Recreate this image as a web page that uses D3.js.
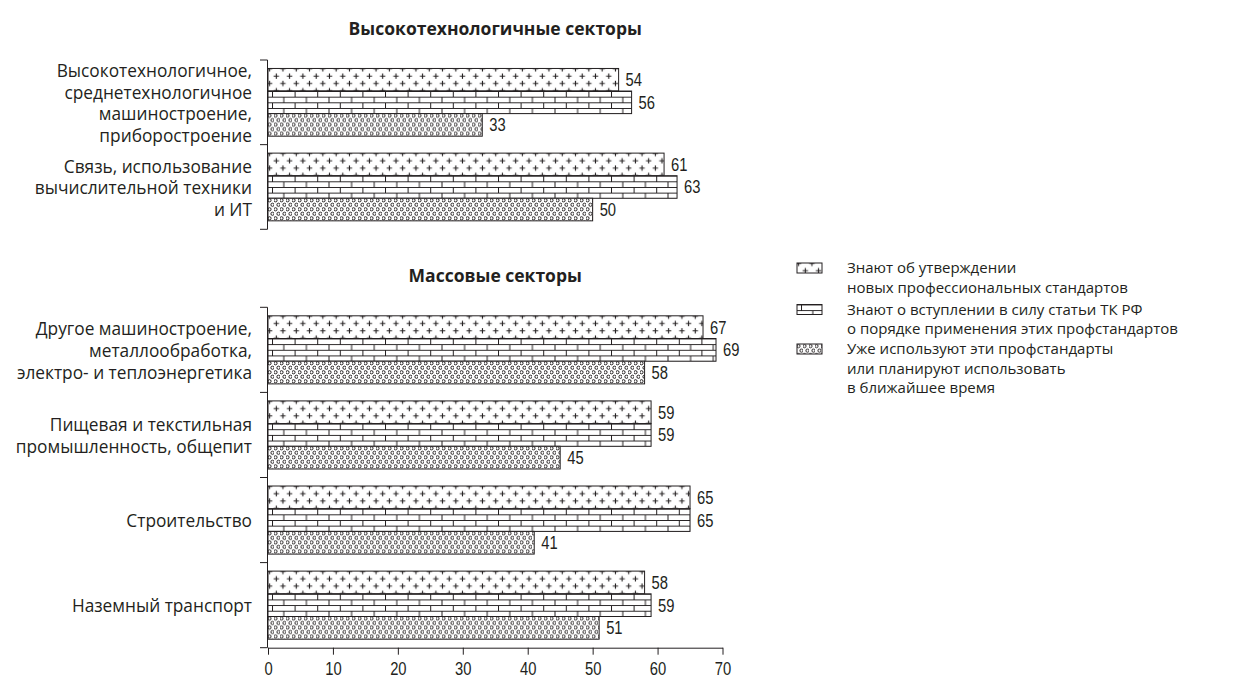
<!DOCTYPE html>
<html lang="ru">
<head>
<meta charset="utf-8">
<script src="https://cdn.jsdelivr.net/npm/d3@7/dist/d3.min.js"></script>
<style>
  html, body { margin: 0; padding: 0; background: #fff; }
  svg { display: block; }
  .cat { font-family: "Open Sans", "Noto Sans", sans-serif; font-size: 17.3px; fill: #231f20; }
  .title { font-family: "Open Sans", "Noto Sans", sans-serif; font-size: 17.5px; font-weight: 700; fill: #231f20; }
  .num { font-family: "Liberation Sans", Arial, sans-serif; font-size: 18px; fill: #231f20; }
  .leg { font-family: "Open Sans", "Noto Sans", sans-serif; font-size: 15px; fill: #231f20; }
</style>
</head>
<body>
<svg id="chart" width="1239" height="680"></svg>
<script>
// Sector names (label lines) per panel
const hiTechSectors = [
  ["Высокотехнологичное,", "среднетехнологичное", "машиностроение,", "приборостроение"],
  ["Связь, использование", "вычислительной техники", "и ИТ"]
];
const massSectors = [
  ["Другое машиностроение,", "металлообработка,", "электро- и теплоэнергетика"],
  ["Пищевая и текстильная", "промышленность, общепит"],
  ["Строительство"],
  ["Наземный транспорт"]
];
const panelTitles = ["Высокотехнологичные секторы", "Массовые секторы"];

// Shares of firms, % — three answers per sector
const hiTechAware = [54, 61];
const hiTechLaw   = [56, 63];
const hiTechUse   = [33, 50];
const massAware   = [67, 59, 65, 58];
const massLaw     = [69, 59, 65, 59];
const massUse     = [58, 45, 41, 51];

const seriesLegend = [
  ["Знают об утверждении", "новых профессиональных стандартов"],
  ["Знают о вступлении в силу статьи ТК РФ", "о порядке применения этих профстандартов"],
  ["Уже используют эти профстандарты", "или планируют использовать", "в ближайшее время"]
];
const xTicks = [0, 10, 20, 30, 40, 50, 60, 70];

const ink = "#231f20";
const svg = d3.select("#chart");
const defs = svg.append("defs");

// Condense a numeric label horizontally (narrow-figure look)
function narrow(sel) {
  sel.each(function () {
    const w = this.getComputedTextLength();
    d3.select(this).attr("textLength", (w * 0.82).toFixed(2))
      .attr("lengthAdjust", "spacingAndGlyphs");
  });
}

// --- fill patterns (aligned to each bar's own top-left corner) ---
const pCross = defs.append("pattern").attr("id", "pat-cross")
  .attr("patternUnits", "userSpaceOnUse")
  .attr("x", -1.65).attr("y", -3.25).attr("width", 13.3).attr("height", 14.6);
pCross.append("rect").attr("width", 13.3).attr("height", 14.6).attr("fill", "#fff");
[[3.3, 3.65], [9.95, 10.95]].forEach(([cx, cy]) => {
  pCross.append("path")
    .attr("d", `M${cx - 2.7},${cy}H${cx + 2.7}M${cx},${cy - 2.7}V${cy + 2.7}`)
    .attr("stroke", ink).attr("stroke-width", 1.1).attr("fill", "none");
});

const pBrick = defs.append("pattern").attr("id", "pat-brick")
  .attr("patternUnits", "userSpaceOnUse")
  .attr("x", 4).attr("y", 0).attr("width", 22.6).attr("height", 11.3);
pBrick.append("rect").attr("width", 22.6).attr("height", 11.3).attr("fill", "#fff");
pBrick.append("path")
  .attr("d", "M0,0.5H22.6M0,6.15H22.6M0.5,0.5V6.15M11.8,6.15V11.3")
  .attr("stroke", ink).attr("stroke-width", 1).attr("fill", "none");

const pDots = defs.append("pattern").attr("id", "pat-dots")
  .attr("patternUnits", "userSpaceOnUse")
  .attr("x", 0).attr("y", -0.2).attr("width", 6).attr("height", 9);
pDots.append("rect").attr("width", 6).attr("height", 9).attr("fill", "#fff");
[[1.5, 2.25], [4.5, 6.75]].forEach(([cx, cy]) => {
  pDots.append("circle").attr("cx", cx).attr("cy", cy).attr("r", 1.6)
    .attr("fill", "none").attr("stroke", ink).attr("stroke-width", 1);
});

const fills = ["url(#pat-cross)", "url(#pat-brick)", "url(#pat-dots)"];

// --- shared horizontal scale ---
const x = d3.scaleLinear().domain([0, 70]).range([268, 722.5]);
const axisX = 267.5;

function drawPanel(sectors, series, title, top, bottom, showXAxis) {
  const names = sectors.map(s => s.join(" "));
  const y = d3.scaleBand().domain(names).range([top, bottom])
    .paddingInner(0.2).paddingOuter(0.1);
  const barH = y.bandwidth() / 3;
  const g = svg.append("g");

  // panel title, centred over the plot area
  g.append("text").attr("class", "title")
    .attr("x", (x.range()[0] + x.range()[1]) / 2).attr("y", top - 25)
    .attr("text-anchor", "middle").text(title);

  // bars
  names.forEach((name, i) => {
    series.forEach((vals, k) => {
      const v = vals[i];
      const y0 = y(name) + k * barH;
      const bg = g.append("g").attr("transform", `translate(${x(0)},${y0})`);
      bg.append("rect")
        .attr("x", 0).attr("y", 0)
        .attr("width", x(v) - x(0)).attr("height", barH)
        .attr("fill", fills[k]).attr("stroke", ink).attr("stroke-width", 1);
      g.append("text").attr("class", "num")
        .attr("x", x(v) + 7).attr("y", y0 + barH / 2)
        .attr("dy", "0.36em").text(v)
        .call(narrow);
    });
  });

  // category labels, one text element per line
  sectors.forEach((lines, i) => {
    const cy = y(names[i]) + y.bandwidth() / 2;
    const lh = 21.7;
    lines.forEach((ln, j) => {
      g.append("text").attr("class", "cat").attr("text-anchor", "end")
        .attr("x", 252)
        .attr("y", cy + (j - (lines.length - 1) / 2) * lh + 1)
        .attr("dy", "0.36em").text(ln);
    });
  });

  // left bracket axis with ticks on band boundaries
  const step = y.step();
  const bounds = d3.range(names.length + 1).map(i => top + i * step);
  g.append("line").attr("x1", axisX).attr("x2", axisX)
    .attr("y1", top).attr("y2", bottom).attr("stroke", ink).attr("stroke-width", 1);
  g.selectAll("line.bt").data(bounds).join("line").attr("class", "bt")
    .attr("x1", 260).attr("x2", axisX).attr("y1", d => d).attr("y2", d => d)
    .attr("stroke", ink).attr("stroke-width", 1);

  if (showXAxis) {
    const ax = g.append("g").attr("transform", `translate(0,${bottom})`)
      .call(d3.axisBottom(x).tickValues(xTicks).tickSize(7).tickSizeOuter(0).tickPadding(8));
    ax.attr("font-family", null).attr("font-size", null);
    ax.select(".domain").attr("stroke", ink);
    ax.selectAll(".tick line").attr("stroke", ink);
    ax.selectAll(".tick text").attr("class", "num").attr("fill", ink)
      .call(narrow);
  }
}

drawPanel(hiTechSectors, [hiTechAware, hiTechLaw, hiTechUse], panelTitles[0], 60, 229.3, false);
drawPanel(massSectors, [massAware, massLaw, massUse], panelTitles[1], 307.3, 647.7, true);

// --- legend ---
const legTop = [268, 309.5, 349];
const leg = svg.append("g");
seriesLegend.forEach((lines, k) => {
  const gy = legTop[k];
  const ig = leg.append("g").attr("transform", `translate(797,${gy - 5})`);
  ig.append("rect").attr("width", 25).attr("height", 10)
    .attr("fill", fills[k]).attr("stroke", ink).attr("stroke-width", 1);
  lines.forEach((ln, j) => {
    leg.append("text").attr("class", "leg")
      .attr("x", 847).attr("y", gy + j * 19.3)
      .attr("dy", "0.36em").text(ln);
  });
});
</script>
</body>
</html>
